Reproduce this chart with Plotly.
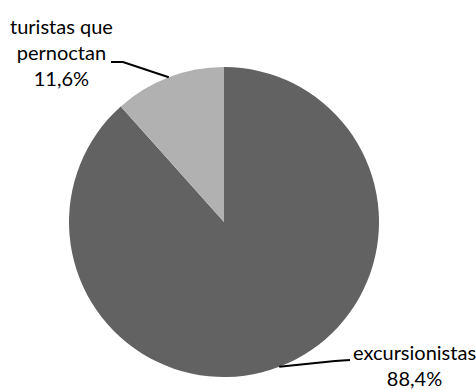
import math
import plotly.graph_objects as go

# Share of visitors by type of stay
labels = ["excursionistas", "turistas que pernoctan"]
label_lines = [["excursionistas"], ["turistas que", "pernoctan"]]
values = [88.4, 11.6]
colors = ["#626262", "#b1b1b1"]

W, H = 476, 390
cx, cy, R = 224, 222, 155  # pie centre and radius in pixels


def px(x):
    return x / W


def py(y):
    return 1 - y / H


fig = go.Figure(
    go.Pie(
        labels=labels,
        values=values,
        sort=False,
        direction="clockwise",
        rotation=0,
        marker=dict(colors=colors, line=dict(width=0)),
        textinfo="none",
        hoverinfo="none",
        showlegend=False,
        domain=dict(x=[px(cx - R), px(cx + R)], y=[py(cy + R), py(cy - R)]),
    )
)

# label placement: text centre (x, y) and leader elbow / end points, in pixels
label_pos = {
    "excursionistas": dict(text=(414, 365), elbow=(335, 361), end=(350, 360)),
    "turistas que pernoctan": dict(text=(61.5, 52), elbow=(123, 62), end=(111, 62)),
}

total = sum(values)
cum = 0.0
shapes = []
annotations = []
for lab, lines, v in zip(labels, label_lines, values):
    mid = (cum + v / 2) / total * 2 * math.pi
    cum += v
    ex = cx + R * math.sin(mid)
    ey = cy - R * math.cos(mid)
    pos = label_pos[lab]
    (bx, by), (kx, ky) = pos["elbow"], pos["end"]
    shapes.append(
        dict(
            type="path",
            xref="paper",
            yref="paper",
            path=f"M {px(ex)},{py(ey)} L {px(bx)},{py(by)} L {px(kx)},{py(ky)}",
            line=dict(color="black", width=2),
        )
    )
    pct = f"{v:.1f}".replace(".", ",") + "%"
    tx, ty = pos["text"]
    annotations.append(
        dict(
            x=px(tx),
            y=py(ty),
            xref="paper",
            yref="paper",
            xanchor="center",
            yanchor="middle",
            showarrow=False,
            align="center",
            text="<br>".join(lines + [pct]),
            font=dict(family="Lato", size=20, color="black"),
        )
    )

fig.update_layout(
    width=W,
    height=H,
    margin=dict(l=0, r=0, t=0, b=0),
    paper_bgcolor="white",
    plot_bgcolor="white",
    shapes=shapes,
    annotations=annotations,
)

fig.write_html("out.html")
